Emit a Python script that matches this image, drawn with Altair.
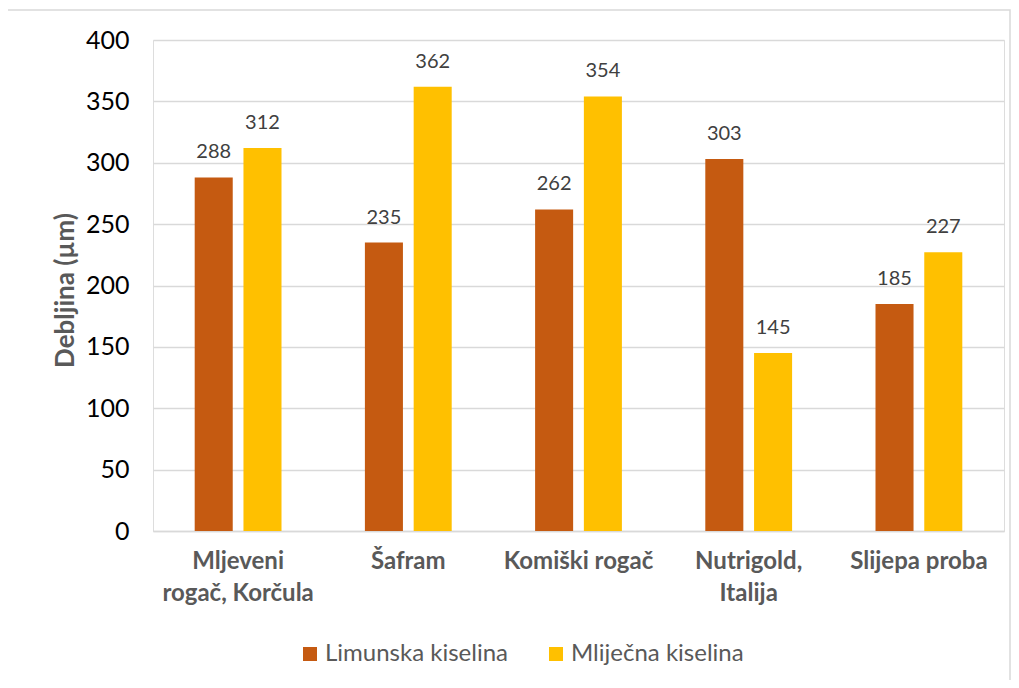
import altair as alt
import pandas as pd

categories = ["Mljeveni\nrogač, Korčula", "Šafram", "Komiški rogač", "Nutrigold,\nItalija", "Slijepa proba"]
series = ["Limunska kiselina", "Mliječna kiselina"]
limunska = [288, 235, 262, 303, 185]
mlijecna = [312, 362, 354, 145, 227]
colors = ["#C55A11", "#FFC000"]
y_ticks = [0, 50, 100, 150, 200, 250, 300, 350, 400]

rows = []
for c, a, b in zip(categories, limunska, mlijecna):
    rows.append({"kategorija": c, "serija": series[0], "vrijednost": a})
    rows.append({"kategorija": c, "serija": series[1], "vrijednost": b})
df = pd.DataFrame(rows)

FONT = "Lato"

x_enc = alt.X(
    "kategorija:N",
    sort=categories,
    scale=alt.Scale(paddingInner=0.49, paddingOuter=0.245),
    axis=alt.Axis(
        title=None,
        labelExpr="split(datum.label, '\\n')",
        labelAngle=0,
        labelFont=FONT,
        labelFontSize=24,
        labelFontWeight="bold",
        labelColor="#595959",
        labelPadding=18,
        labelLineHeight=32,
        labelLimit=300,
        ticks=False,
        domainColor="#D9D9D9",
        domainWidth=1.5,
        labelBaseline="top",
    ),
)
xoff = alt.XOffset("serija:N", sort=series, scale=alt.Scale(paddingInner=0.22, paddingOuter=0))
y_enc = alt.Y(
    "vrijednost:Q",
    scale=alt.Scale(domain=[0, 400], nice=False),
    axis=alt.Axis(
        values=y_ticks,
        title="Debljina (µm)",
        titleFont=FONT,
        titleFontSize=26,
        titleFontWeight="bold",
        titleColor="#595959",
        titleX=-88,
        titleY=250,
        titleAngle=-90,
        titleAlign="center",
        titleBaseline="middle",
        labelFont=FONT,
        labelFontSize=25,
        labelColor="#000000",
        labelPadding=24,
        ticks=False,
        domain=False,
        grid=True,
        gridColor="#D9D9D9",
        gridWidth=1.5,
    ),
)

bars = alt.Chart(df).mark_bar().encode(
    x=x_enc,
    xOffset=xoff,
    y=y_enc,
    color=alt.Color(
        "serija:N",
        sort=series,
        scale=alt.Scale(domain=series, range=colors),
        legend=alt.Legend(
            title=None,
            orient="none",
            legendX=145,
            legendY=602,
            direction="horizontal",
            symbolType="square",
            symbolSize=196,
            symbolStrokeWidth=0,
            labelFont=FONT,
            labelFontSize=24,
            labelColor="#595959",
            labelOffset=3,
            labelLimit=400,
            columnPadding=35,
        ),
    ),
)

labels = alt.Chart(df).mark_text(
    baseline="bottom", dy=-15, font=FONT, fontSize=20, color="#404040"
).encode(
    x=alt.X("kategorija:N", sort=categories),
    xOffset=xoff,
    y="vrijednost:Q",
    text="vrijednost:Q",
)

border = alt.Chart(pd.DataFrame({"a": [0]})).mark_rect(
    fill=None, stroke="#D9D9D9", strokeWidth=1.5
).encode(
    x=alt.value(-146), x2=alt.value(857), y=alt.value(-30), y2=alt.value(644)
)

chart = alt.layer(border, bars, labels).properties(
    width=851,
    height=491,
    padding={"left": 145, "top": 32, "right": 7, "bottom": 149},
    autosize=alt.AutoSizeParams(type="none"),
).configure_view(stroke=None).configure(background="white")

chart.save("out.html", embed_options={"renderer": "svg", "actions": False})
